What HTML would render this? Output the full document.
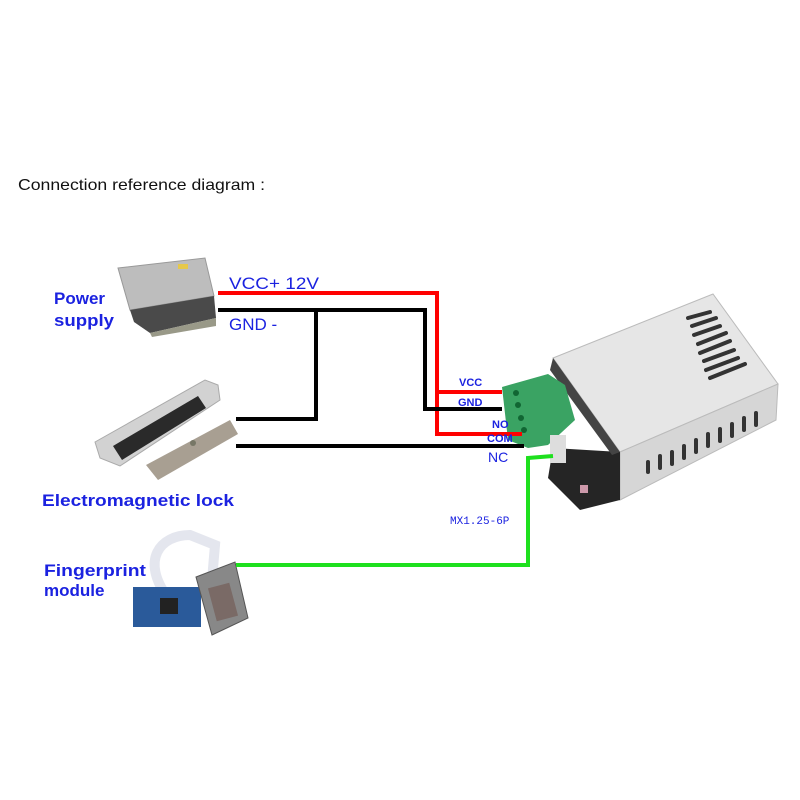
<!DOCTYPE html>
<html><head><meta charset="utf-8"><style>
html,body{margin:0;padding:0;background:#fff;width:800px;height:800px;overflow:hidden}
svg{display:block}
text{font-family:"Liberation Sans",sans-serif}
</style></head><body>
<svg width="800" height="800" viewBox="0 0 800 800" xmlns="http://www.w3.org/2000/svg">
<text x="18" y="190" font-size="16" fill="#111" textLength="247" lengthAdjust="spacingAndGlyphs">Connection reference diagram :</text>

<!-- power supply -->
<polygon points="118,268 205,258 214,296 130,310" fill="#bdbdbd" stroke="#999"/>
<polygon points="130,310 214,296 216,318 150,333 134,322" fill="#4a4a4a"/>
<polygon points="150,333 216,318 216,326 152,337" fill="#998"/>
<rect x="178" y="264" width="10" height="5" fill="#e6c84a"/>
<text x="54" y="304" font-size="17" font-weight="bold" fill="#1b22e0">Power</text>
<text x="54" y="326" font-size="17" font-weight="bold" fill="#1b22e0" textLength="60" lengthAdjust="spacingAndGlyphs">supply</text>

<!-- lock -->
<polygon points="95,442 205,380 218,385 220,400 120,466 100,458" fill="#d2d2d2" stroke="#aaa"/>
<polygon points="113,446 198,396 206,408 122,460" fill="#2a2a2a"/>
<polygon points="146,465 230,420 238,434 158,480" fill="#a89f92"/>
<circle cx="193" cy="443" r="3" fill="#776"/>
<text x="42" y="506" font-size="17" font-weight="bold" fill="#1b22e0" textLength="192" lengthAdjust="spacingAndGlyphs">Electromagnetic lock</text>

<!-- fingerprint -->
<path d="M168,598 C140,560 160,535 190,535 L215,545 L212,580" fill="none" stroke="#e4e6ee" stroke-width="10"/>
<rect x="133" y="587" width="68" height="40" fill="#2a5a9a"/>
<rect x="160" y="598" width="18" height="16" fill="#222"/>
<polygon points="196,577 235,562 248,618 212,635" fill="#888" stroke="#555"/>
<rect x="212" y="585" width="22" height="34" fill="#7a6a66" transform="rotate(-15 223 602)"/>
<text x="44" y="576" font-size="17" font-weight="bold" fill="#1b22e0" textLength="102" lengthAdjust="spacingAndGlyphs">Fingerprint</text>
<text x="44" y="596" font-size="17" font-weight="bold" fill="#1b22e0">module</text>

<!-- device -->
<polygon points="553,358 713,294 778,384 620,452" fill="#e6e6e6" stroke="#bbb"/>
<polygon points="620,452 778,384 776,420 620,500" fill="#d6d6d6" stroke="#bbb"/>
<polygon points="553,448 620,452 620,500 580,510 548,478" fill="#252525"/>
<polygon points="553,358 620,452 612,455 550,370" fill="#444"/>
<g stroke="#333" stroke-width="4" stroke-linecap="round">
<line x1="688" y1="318" x2="710" y2="312"/><line x1="692" y1="326" x2="716" y2="318"/>
<line x1="694" y1="335" x2="720" y2="326"/><line x1="698" y1="344" x2="726" y2="333"/>
<line x1="700" y1="353" x2="730" y2="341"/><line x1="704" y1="361" x2="734" y2="350"/>
<line x1="706" y1="370" x2="738" y2="358"/><line x1="710" y1="378" x2="745" y2="364"/>
<line x1="648" y1="462" x2="648" y2="472"/><line x1="660" y1="456" x2="660" y2="468"/>
<line x1="672" y1="452" x2="672" y2="464"/><line x1="684" y1="446" x2="684" y2="458"/>
<line x1="696" y1="440" x2="696" y2="452"/><line x1="708" y1="434" x2="708" y2="446"/>
<line x1="720" y1="429" x2="720" y2="441"/><line x1="732" y1="424" x2="732" y2="436"/>
<line x1="744" y1="418" x2="744" y2="430"/><line x1="756" y1="413" x2="756" y2="425"/>
</g>
<polygon points="502,387 548,374 565,385 575,420 548,445 528,448 508,440" fill="#3aa363"/>
<circle cx="516" cy="393" r="3" fill="#163"/><circle cx="518" cy="405" r="3" fill="#163"/>
<circle cx="521" cy="418" r="3" fill="#163"/><circle cx="524" cy="430" r="3" fill="#163"/>
<rect x="550" y="435" width="16" height="28" fill="#ddd"/>
<rect x="580" y="485" width="8" height="8" fill="#c9a"/>

<!-- wires -->
<g fill="none" stroke-width="4">
<polyline points="218,293 437,293 437,434 522,434" stroke="#f00"/>
<line x1="437" y1="392" x2="502" y2="392" stroke="#f00"/>
<polyline points="218,310 425,310 425,409 502,409" stroke="#000"/>
<polyline points="316,310 316,419 236,419" stroke="#000"/>
<line x1="236" y1="446" x2="524" y2="446" stroke="#000"/>
<polyline points="236,565 528,565 528,458 553,456" stroke="#1ee01e"/>
</g>

<text x="229" y="289" font-size="17" fill="#1b22e0" textLength="90" lengthAdjust="spacingAndGlyphs">VCC+ 12V</text>
<text x="229" y="330" font-size="17" fill="#1b22e0">GND -</text>
<text x="459" y="386" font-size="11" font-weight="bold" fill="#1b22e0">VCC</text>
<text x="458" y="406" font-size="11" font-weight="bold" fill="#1b22e0">GND</text>
<text x="492" y="428" font-size="11" font-weight="bold" fill="#1b22e0">NO</text>
<text x="487" y="442" font-size="11" font-weight="bold" fill="#1b22e0">COM</text>
<text x="488" y="462" font-size="14" fill="#1b22e0">NC</text>
<text x="450" y="524" font-size="11" fill="#1b22e0" style="font-family:'Liberation Mono',monospace">MX1.25-6P</text>
</svg>
</body></html>
